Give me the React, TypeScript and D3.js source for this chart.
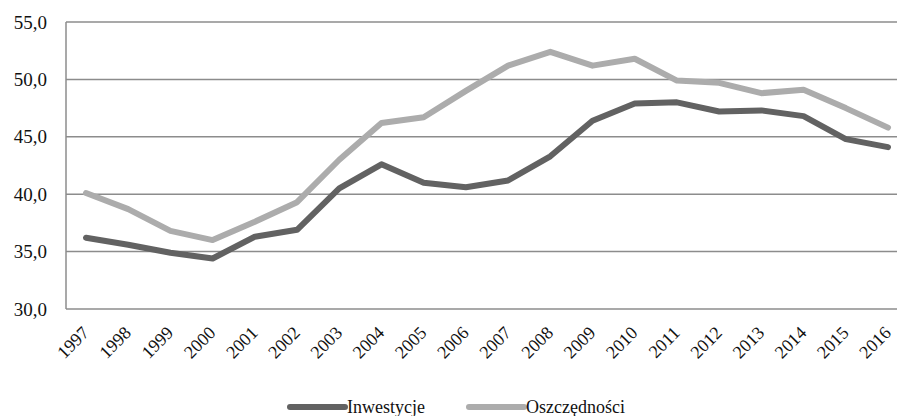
import { useRef, useEffect } from "react";
import * as d3 from "d3";

const years = ["1997", "1998", "1999", "2000", "2001", "2002", "2003", "2004", "2005", "2006",
  "2007", "2008", "2009", "2010", "2011", "2012", "2013", "2014", "2015", "2016"];
const inwestycje = [36.2, 35.6, 34.9, 34.4, 36.3, 36.9, 40.5, 42.6, 41.0, 40.6,
  41.2, 43.3, 46.4, 47.9, 48.0, 47.2, 47.3, 46.8, 44.8, 44.1];
const oszczednosci = [40.1, 38.7, 36.8, 36.0, 37.6, 39.3, 43.0, 46.2, 46.7, 49.0,
  51.2, 52.4, 51.2, 51.8, 49.9, 49.7, 48.8, 49.1, 47.5, 45.8];
const yTicks = [30, 35, 40, 45, 50, 55];
const seriesNames = ["Inwestycje", "Oszczędności"];
const colors = ["#626262", "#acacac"];

const App = () => {
  const svgRef = useRef<SVGSVGElement>(null);

  useEffect(() => {
    const w = 897;
    const svg = d3.select(svgRef.current);
    svg.selectAll("*").remove();

    const xScale = d3.scalePoint<string>().domain(years).range([86, 888]);
    const yScale = d3.scaleLinear().domain([30, 55]).range([309, 22]);
    const font = "'Liberation Serif', 'Times New Roman', serif";

    // gridlines
    svg.append("g")
      .selectAll("line")
      .data(yTicks)
      .join("line")
      .attr("x1", 66)
      .attr("x2", w)
      .attr("y1", (d) => yScale(d))
      .attr("y2", (d) => yScale(d))
      .attr("stroke", "#8c8c8c")
      .attr("stroke-width", 1.5);

    // left axis line
    svg.append("line")
      .attr("x1", 66).attr("x2", 66)
      .attr("y1", yScale(55)).attr("y2", yScale(30))
      .attr("stroke", "#8c8c8c")
      .attr("stroke-width", 1.5);

    // y labels
    svg.append("g")
      .selectAll("text")
      .data(yTicks)
      .join("text")
      .attr("x", 47)
      .attr("y", (d) => yScale(d))
      .attr("dy", "0.35em")
      .attr("text-anchor", "end")
      .style("font-family", font)
      .style("font-size", "19px")
      .attr("fill", "#111")
      .text((d) => d3.format(".1f")(d).replace(".", ","));

    // x labels, rotated
    svg.append("g")
      .selectAll("text")
      .data(years)
      .join("text")
      .attr("transform", (d) => `translate(${(xScale(d) as number) + 4},${334}) rotate(-45)`)
      .attr("text-anchor", "end")
      .style("font-family", font)
      .style("font-size", "18px")
      .attr("fill", "#111")
      .text((d) => d);

    // lines
    const line = d3.line<number>()
      .x((d, i) => xScale(years[i]) as number)
      .y((d) => yScale(d));

    [inwestycje, oszczednosci].forEach((data, k) => {
      svg.append("path")
        .datum(data)
        .attr("d", line)
        .attr("fill", "none")
        .attr("stroke", colors[k])
        .attr("stroke-width", 6)
        .attr("stroke-linejoin", "round")
        .attr("stroke-linecap", "round");
    });

    // legend
    const legendX = [290, 469];
    const legend = svg.append("g");
    seriesNames.forEach((name, k) => {
      legend.append("line")
        .attr("x1", legendX[k]).attr("x2", legendX[k] + 55)
        .attr("y1", 407).attr("y2", 407)
        .attr("stroke", colors[k])
        .attr("stroke-width", 6)
        .attr("stroke-linecap", "round");
      legend.append("text")
        .attr("x", legendX[k] + 57)
        .attr("y", 413)
        .style("font-family", font)
        .style("font-size", "18px")
        .attr("fill", "#111")
        .text(name);
    });
  }, []);

  return (
    <svg
      ref={svgRef}
      width={897}
      height={416}
      style={{ position: "absolute", left: 0, top: 0, background: "#fff" }}
    ></svg>
  );
};

export default App;
